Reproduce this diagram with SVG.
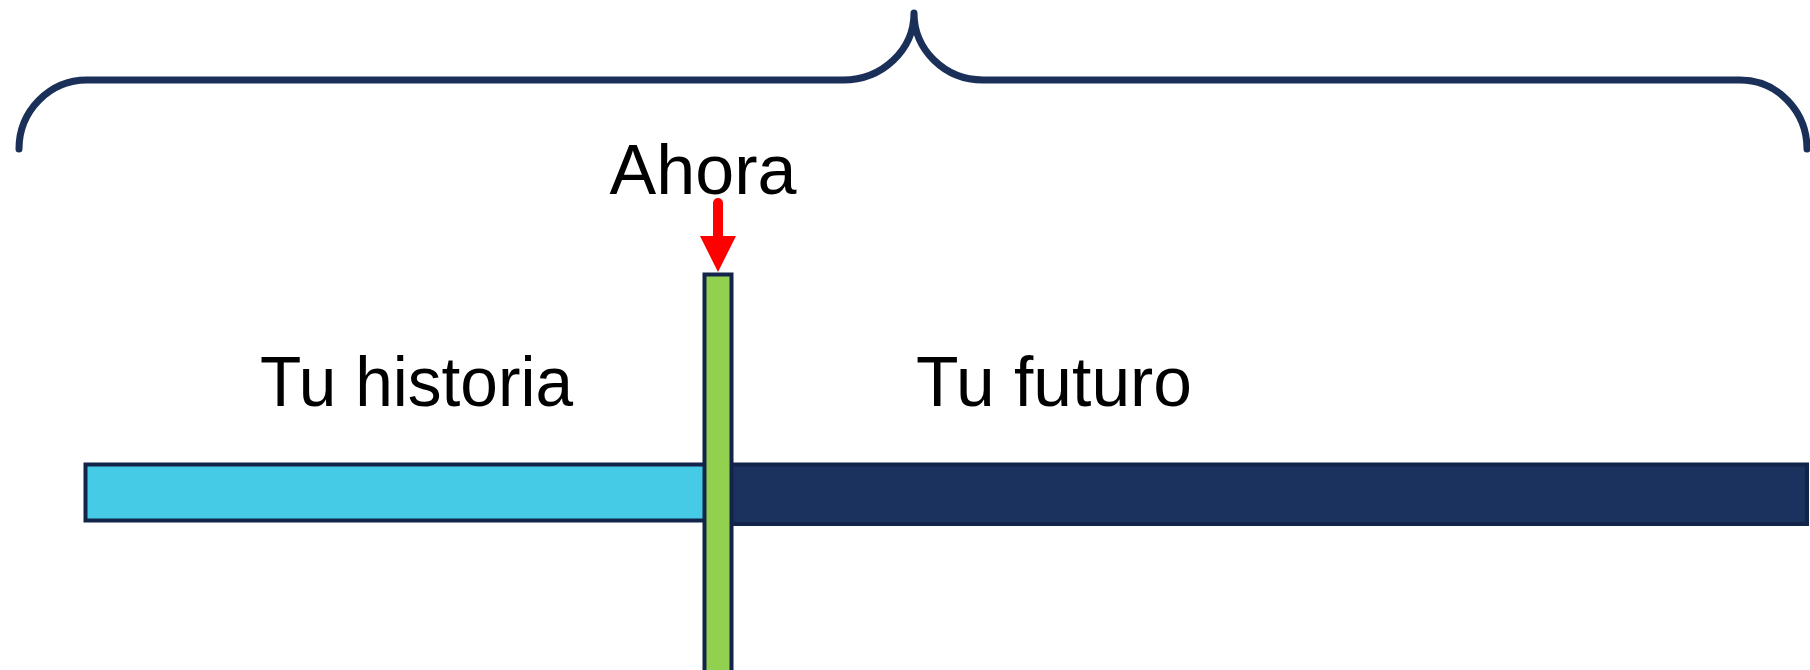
<svg xmlns="http://www.w3.org/2000/svg" width="1810" height="670" viewBox="0 0 1810 670">
<style>
.lbl{font-family:"Liberation Sans",Arial,sans-serif;font-size:70px;fill:#000}
.brace{fill:none;stroke:#1B3059;stroke-width:7;stroke-linecap:round;stroke-linejoin:round}
.bar{stroke:#13244A;stroke-width:4}
</style>
<defs>
<marker id="head" markerUnits="userSpaceOnUse" markerWidth="36" markerHeight="36" refX="18" refY="0" viewBox="0 -2 36 38" orient="auto" overflow="visible">
<path d="M0,0 L36,0 L18,36 Z" fill="#FF0000" transform="rotate(-90 0 0)"/>
</marker>
</defs>
<g id="brace">
<path class="brace" d="M19,149 A68,69 0 0 1 87,80 H843 A71,67 0 0 0 914,13 A69,67 0 0 0 983,80 H1740 A67,69 0 0 1 1807,149"/>
</g>
<g id="history-bar">
<rect class="bar" x="85.5" y="464.5" width="630" height="56" fill="#46CBE7"/>
</g>
<g id="future-bar">
<rect class="bar" x="720" y="464.5" width="1087" height="59.5" fill="#1B325E"/>
</g>
<g id="now-bar">
<rect class="bar" x="704.5" y="274.5" width="27" height="420" fill="#92D050"/>
</g>
<g id="connectors">
<line x1="718" y1="203" x2="718" y2="238" stroke="#FF0000" stroke-width="10" stroke-linecap="round"/>
<path d="M700,236 L736,236 L718,272 Z" fill="#FF0000"/>
</g>
<g id="labels">
<text class="lbl" x="703" y="194" text-anchor="middle">Ahora</text>
<text class="lbl" x="260" y="406" textLength="313" lengthAdjust="spacingAndGlyphs">Tu historia</text>
<text class="lbl" x="916" y="406" textLength="276" lengthAdjust="spacingAndGlyphs">Tu futuro</text>
</g>
</svg>
